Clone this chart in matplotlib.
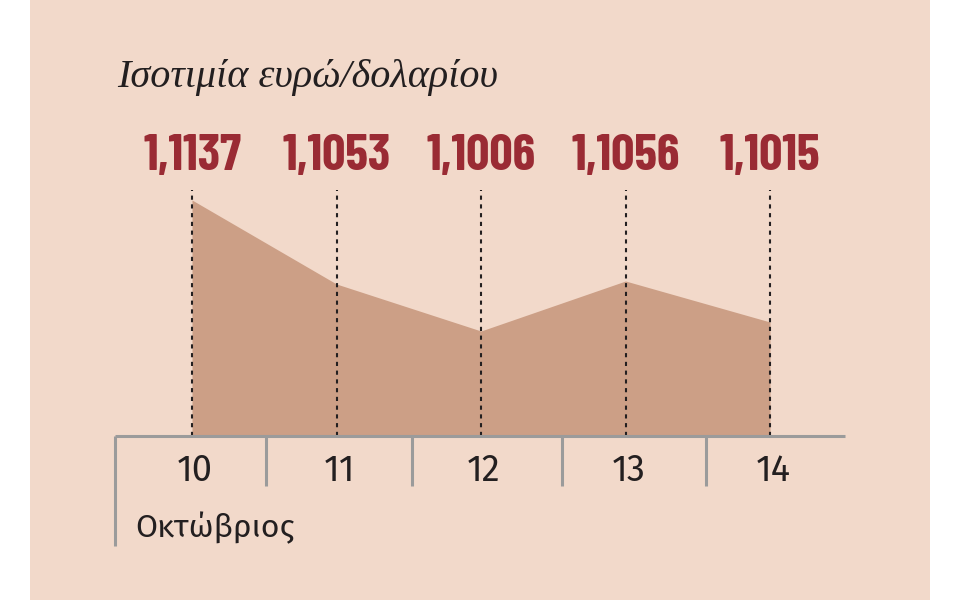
import matplotlib
matplotlib.use("Agg")
import matplotlib.pyplot as plt
from matplotlib.patches import Rectangle

# ισοτιμία ευρώ/δολαρίου, 10-14 Οκτωβρίου
days = ["10", "11", "12", "13", "14"]
rates = [1.1137, 1.1053, 1.1006, 1.1056, 1.1015]
rate_labels = ["1,1137", "1,1053", "1,1006", "1,1056", "1,1015"]
separators = [-0.53, 0.51, 1.52, 2.56, 3.56]

bg = "#f2d9ca"
fill_c = "#cc9f86"
red = "#9a2b34"
ink = "#231f20"
grey = "#9b9b9b"

sans = ["Fira Sans", "Open Sans", "DejaVu Sans"]
narrow = ["Barlow Condensed", "Asap Condensed", "Liberation Sans", "DejaVu Sans"]
serif = ["Liberation Serif", "DejaVu Serif"]

base = 1.0901
idx = list(range(len(days)))

fig = plt.figure(figsize=(9.6, 6), dpi=100)
fig.patch.set_facecolor("white")
fig.patches.append(Rectangle((30/960, 0), 900/960, 1, transform=fig.transFigure,
                             facecolor=bg, edgecolor="none", zorder=0))

ax = fig.add_axes([0, 0, 1, 1])
ax.set_zorder(2)
ax.patch.set_visible(False)
ax.set_xlim(-192/144.5, (960-192)/144.5)
ax.set_ylim(1.0737, 1.1337)
ax.axis("off")

ax.fill_between(idx, rates, base, color=fill_c, linewidth=0, zorder=1)
ax.vlines(idx, base, 1.1147, colors=ink, linestyles=(0, (2, 2.2)), linewidth=1.5, zorder=2)

# άξονας
ax.plot([separators[0], 4.52], [base, base], color=grey, lw=2.2, zorder=3, solid_capstyle="butt")
ax.vlines(separators[0], 1.0791, base, colors=grey, lw=2.2, zorder=3)
ax.vlines(separators[1:], 1.0851, base, colors=grey, lw=2.2, zorder=3)

for i, d in enumerate(days):
    ax.text(i + 0.02, 1.0866, d, ha="center", va="center", fontsize=26,
            family=sans, color=ink)
    ax.text(i, 1.1180, rate_labels[i], ha="center", va="center", fontsize=37,
            fontweight="bold", family=narrow, color=red)

ax.text(-0.394, 1.0809, "Οκτώβριος", ha="left", va="center", fontsize=23,
        family=sans, color=ink)
ax.text(-0.519, 1.1260, "Ισοτιμία ευρώ/δολαρίου", ha="left", va="center", fontsize=29,
        style="italic", family=serif, color=ink)

fig.savefig("out.png", dpi=100)
